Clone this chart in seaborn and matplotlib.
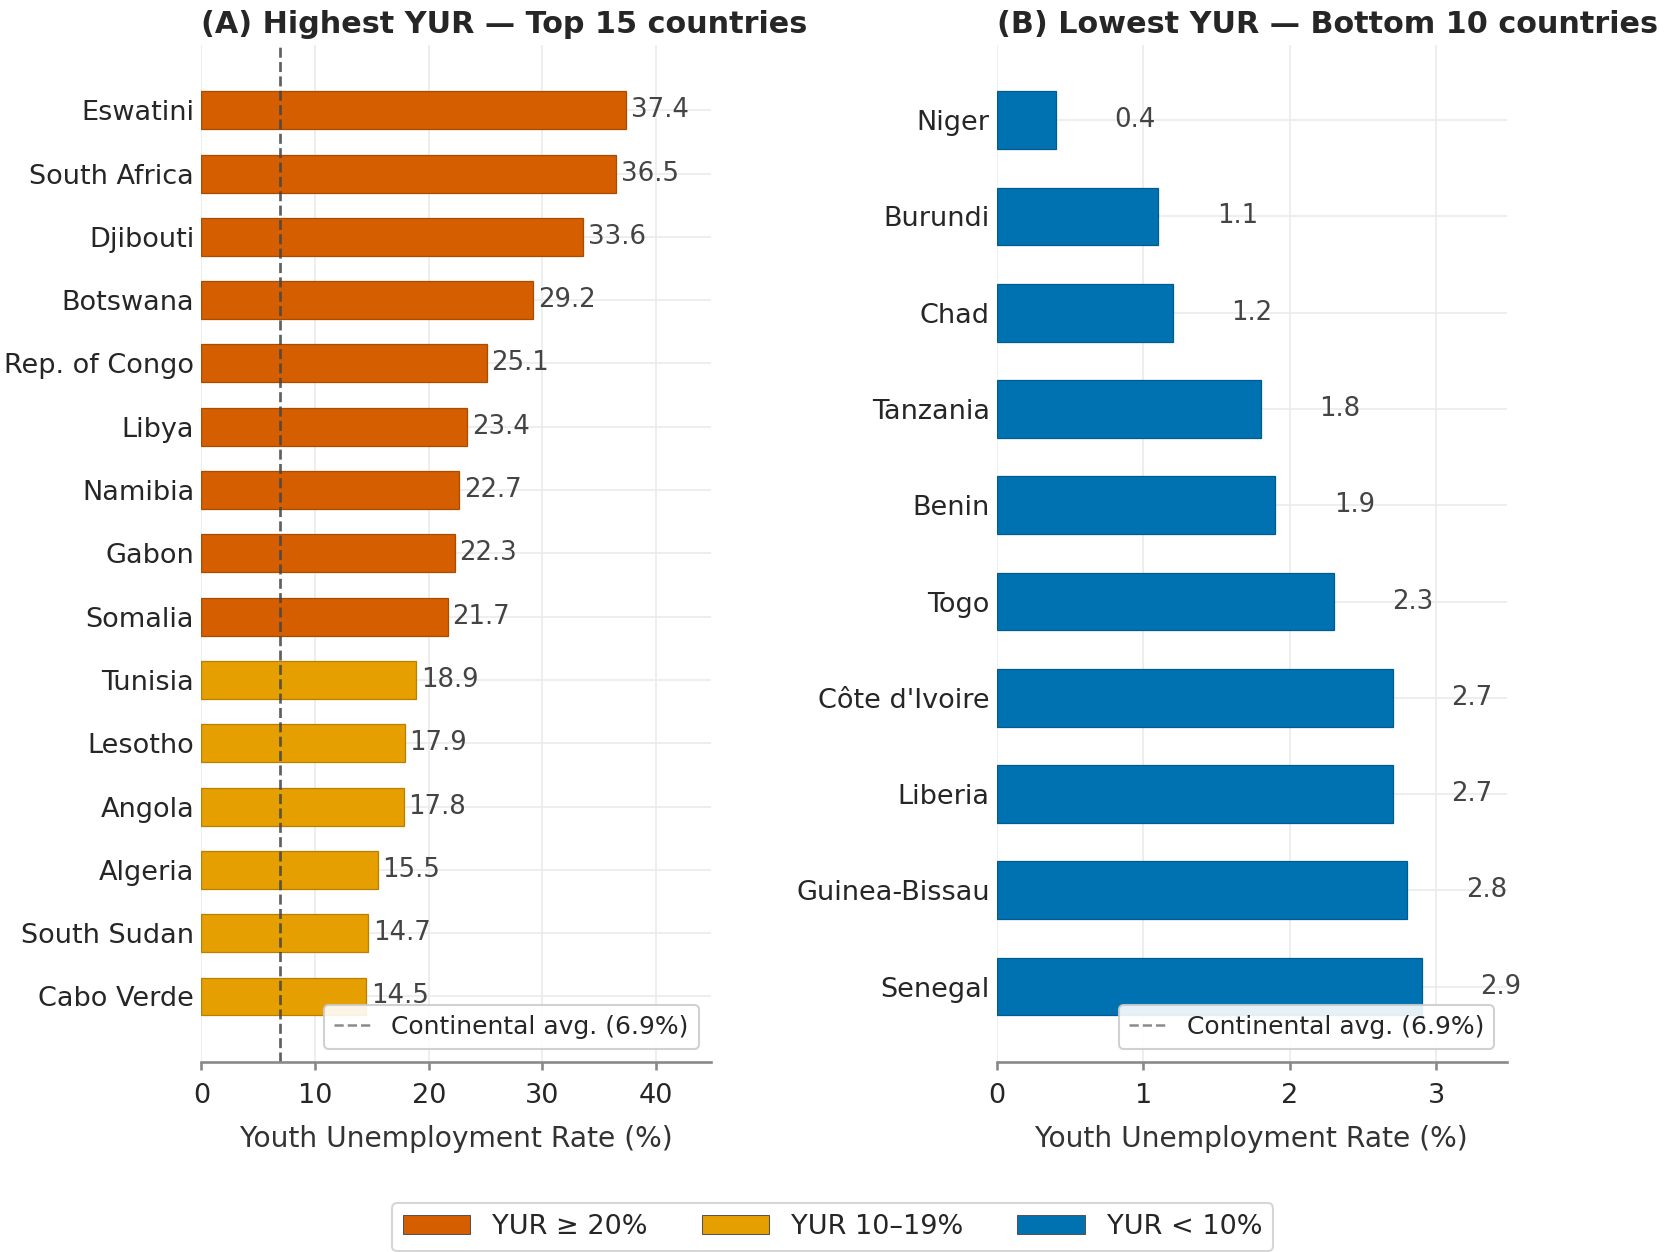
import numpy as np
import pandas as pd
import matplotlib
matplotlib.use("Agg")
import matplotlib.pyplot as plt
import seaborn as sns
from matplotlib.patches import Patch
from matplotlib.lines import Line2D
from matplotlib.ticker import MultipleLocator

# datos panel A (top 15)
top_countries = ["Eswatini", "South Africa", "Djibouti", "Botswana", "Rep. of Congo",
                 "Libya", "Namibia", "Gabon", "Somalia", "Tunisia", "Lesotho",
                 "Angola", "Algeria", "South Sudan", "Cabo Verde"]
top_yur = [37.4, 36.5, 33.6, 29.2, 25.1, 23.4, 22.7, 22.3, 21.7, 18.9, 17.9, 17.8, 15.5, 14.7, 14.5]

# datos panel B (bottom 10)
low_countries = ["Niger", "Burundi", "Chad", "Tanzania", "Benin", "Togo",
                 "Côte d'Ivoire", "Liberia", "Guinea-Bissau", "Senegal"]
low_yur = [0.4, 1.1, 1.2, 1.8, 1.9, 2.3, 2.7, 2.7, 2.8, 2.9]

continental_avg = 6.9
band_labels = ["YUR ≥ 20%", "YUR 10–19%", "YUR < 10%"]
band_colors = ["#D55E00", "#E69F00", "#0072B2"]


def band(v):
    if v >= 20:
        return band_labels[0]
    if v >= 10:
        return band_labels[1]
    return band_labels[2]


sns.set_theme(style="whitegrid")
plt.rcParams['font.family'] = ['DejaVu Sans']
palette = dict(zip(band_labels, band_colors))

fig, axes = plt.subplots(1, 2, figsize=(11.1, 8.3467), dpi=150)
fig.subplots_adjust(left=0.121, right=0.905, top=0.964, bottom=0.152, wspace=0.56)

paneles = [
    (axes[0], top_countries, top_yur, "(A) Highest YUR — Top 15 countries", 10),
    (axes[1], low_countries, low_yur, "(B) Lowest YUR — Bottom 10 countries", 1),
]

for ax, names, vals, title, step in paneles:
    df = pd.DataFrame({"Country": names, "YUR": vals})
    df["Band"] = df["YUR"].apply(band)
    sns.barplot(data=df, y="Country", x="YUR", hue="Band", palette=palette, saturation=1,
                dodge=False, width=0.6, legend=False, linewidth=0.6, ax=ax)
    n = len(df)
    # limites como matplotlib barh (margen 5%)
    lo, hi = -0.3, n - 0.7
    pad = 0.05 * (hi - lo)
    ax.set_ylim(hi + pad, lo - pad)
    ax.set_xlim(0, max(vals) * 1.2)
    ax.xaxis.set_major_locator(MultipleLocator(step))
    ax.yaxis.grid(True, color="#ebebeb", linewidth=0.8)
    ax.xaxis.grid(True, color="#ebebeb", linewidth=0.8)
    ax.set_axisbelow(True)

    for i, v in enumerate(vals):
        ax.text(v + 0.4, i, f"{v:.1f}", va="center", ha="left", fontsize=12.5, color="#444444")

    ax.axvline(continental_avg, color="#444444", linestyle="--", linewidth=1.3, alpha=0.85)
    avg_handle = Line2D([0], [0], color="#777777", linestyle="--", linewidth=1.2, alpha=0.85)
    ax.legend([avg_handle], [f"Continental avg. ({continental_avg}%)"], loc="lower right",
              fontsize=12, frameon=True, framealpha=0.9, handlelength=1.5)

    ax.set_title(title, loc="left", fontweight="bold", fontsize=14.5)
    ax.set_xlabel("Youth Unemployment Rate (%)", fontsize=13.5, color="#333333", labelpad=8)
    ax.set_ylabel("")
    ax.tick_params(axis="y", labelsize=13, length=0)
    ax.tick_params(axis="x", labelsize=13, bottom=True, length=4, pad=6, color="#888888")
    sns.despine(ax=ax, left=True)
    ax.spines["bottom"].set_color("#888888")

# borde de cada barra un poco mas oscuro que el relleno
for ax in axes:
    for p in ax.patches:
        r, g, b, _ = p.get_facecolor()
        p.set_edgecolor((r * 0.8, g * 0.8, b * 0.8, 1))

handles = [Patch(facecolor=c, edgecolor="#555555", linewidth=0.5) for c in band_colors]
fig.legend(handles, band_labels, loc="lower center", bbox_to_anchor=(0.5, -0.01),
           ncol=3, fontsize=13, frameon=True, columnspacing=2.0, handlelength=2.5)

plt.savefig("out.png", dpi=150)
plt.close("all")
